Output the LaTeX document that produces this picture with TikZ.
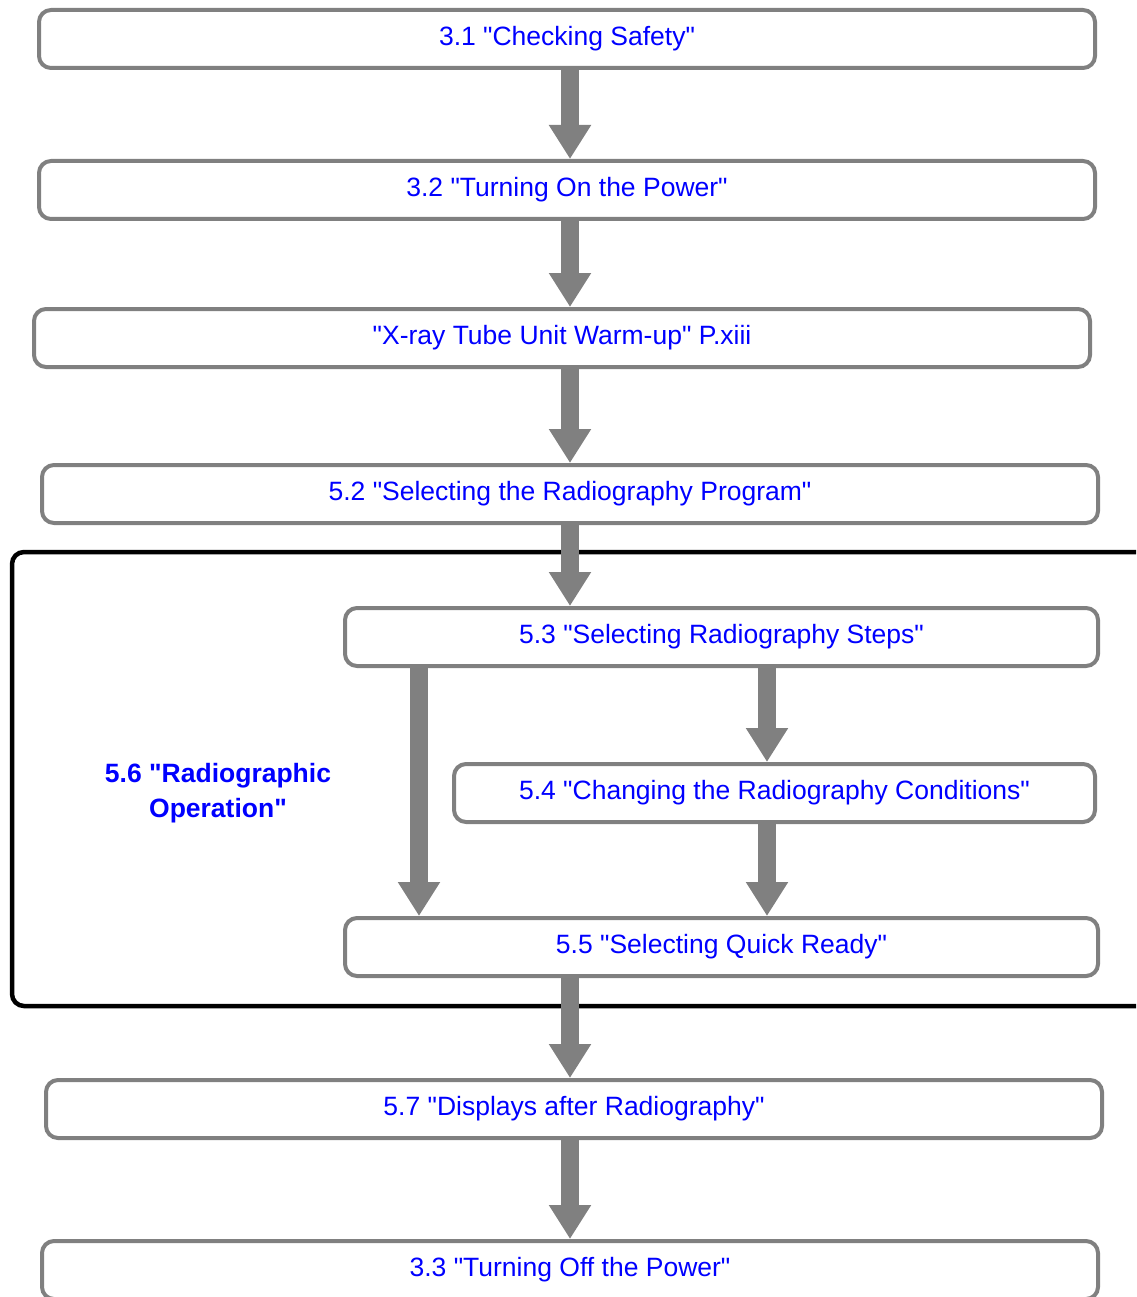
\documentclass[tikz,border=0pt]{standalone}
\usepackage{fontspec}
\setmainfont{Liberation Sans}[Ligatures=TeXOff]
\usetikzlibrary{arrows.meta}
\definecolor{boxgray}{RGB}{128,128,128}
\definecolor{linkblue}{RGB}{0,0,255}

\begin{document}
\begin{tikzpicture}[x=1pt,y=-1pt,
  stepbox/.style={draw=boxgray,line width=4pt,rounded corners=12pt,inner sep=0pt,
    minimum height=58pt,text=linkblue,font=\fontsize{26.5}{35}\selectfont},
  flowarrow/.style={draw=boxgray,line width=18pt,-{Triangle[width=40pt,length=34pt]}}]
  \useasboundingbox (0,0) rectangle (1136,1297);
  \clip (0,0) rectangle (1136,1297);
  % arrow columns
  \coordinate (mid) at (570,0);
  \coordinate (left) at (419,0);
  \coordinate (right) at (767,0);
  % main steps
  \node[stepbox,minimum width=1056pt] (b31) at (567,39) {3.1 "Checking Safety"};
  \node[stepbox,minimum width=1056pt] (b32) at (567,190) {3.2 "Turning On the Power"};
  \node[stepbox,minimum width=1056pt] (warm) at (562,338) {"X-ray Tube Unit Warm-up" P.xiii};
  \node[stepbox,minimum width=1056pt] (b52) at (570,494) {5.2 "Selecting the Radiography Program"};
  % radiographic operation group
  \draw[line width=4.5pt,rounded corners=12pt] (12,552) rectangle (1150,1006);
  \node[text=linkblue,font=\fontsize{26.5}{35}\selectfont\bfseries,align=center] (b56) at (218,793) {5.6 "Radiographic\\Operation"};
  \node[stepbox,minimum width=753pt] (b53) at (721.5,637) {5.3 "Selecting Radiography Steps"};
  \node[stepbox,minimum width=641pt] (b54) at (774.5,793) {5.4 "Changing the Radiography Conditions"};
  \node[stepbox,minimum width=753pt] (b55) at (721.5,947) {5.5 "Selecting Quick Ready"};
  \node[stepbox,minimum width=1056pt] (b57) at (574,1109) {5.7 "Displays after Radiography"};
  \node[stepbox,minimum width=1056pt] (b33) at (570,1270) {3.3 "Turning Off the Power"};
  % arrows
  \draw[flowarrow] (b31.south -| mid) -- (b32.north -| mid);
  \draw[flowarrow] (b32.south -| mid) -- (warm.north -| mid);
  \draw[flowarrow] (warm.south -| mid) -- (b52.north -| mid);
  \draw[flowarrow] (b52.south -| mid) -- (b53.north -| mid);
  \draw[flowarrow] (b53.south -| left) -- (b55.north -| left);
  \draw[flowarrow] (b53.south -| right) -- (b54.north -| right);
  \draw[flowarrow] (b54.south -| right) -- (b55.north -| right);
  \draw[flowarrow] (b55.south -| mid) -- (b57.north -| mid);
  \draw[flowarrow] (b57.south -| mid) -- (b33.north -| mid);
\end{tikzpicture}
\end{document}
